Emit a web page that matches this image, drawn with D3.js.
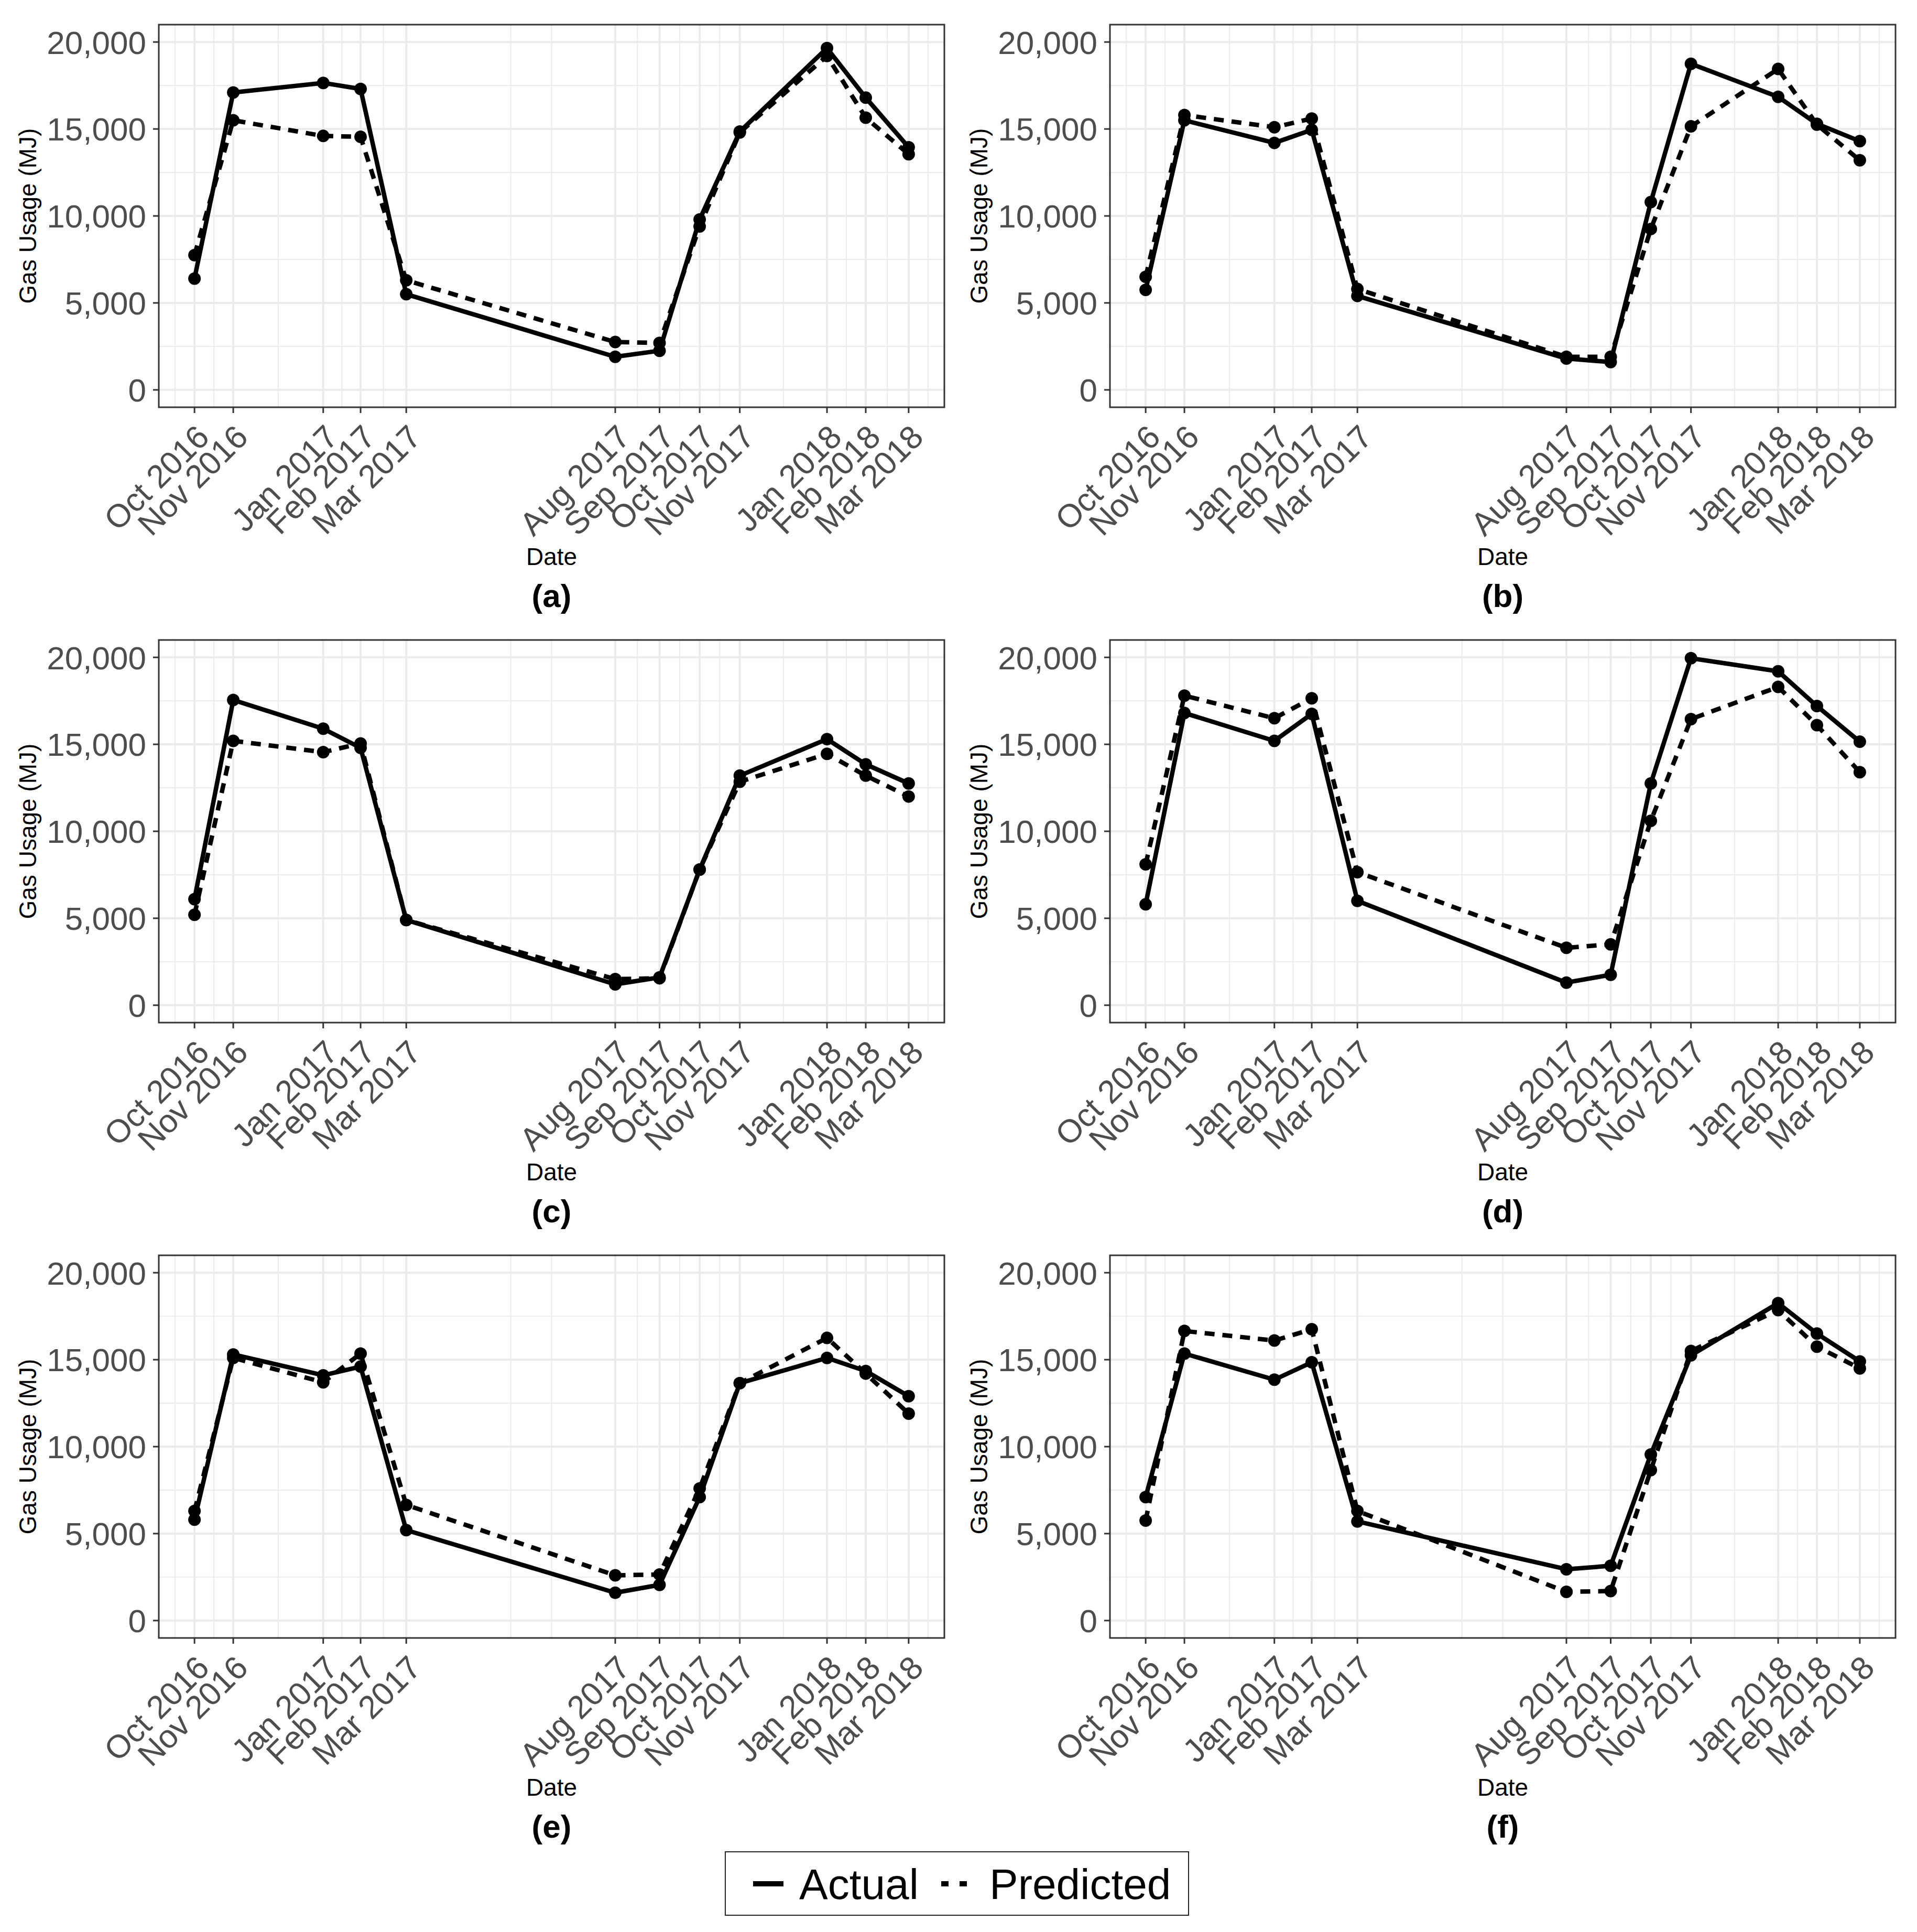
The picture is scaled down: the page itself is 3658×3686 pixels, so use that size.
<!DOCTYPE html>
<html>
<head>
<meta charset="utf-8">
<script src="https://cdn.jsdelivr.net/npm/d3@7"></script>
<style>
  html, body { margin: 0; padding: 0; background: #ffffff; }
  svg { display: block; }
</style>
</head>
<body>
<script>
// ---------------- DATA ----------------
const monthLabels = ["Oct 2016","Nov 2016","Jan 2017","Feb 2017","Mar 2017","Aug 2017",
                     "Sep 2017","Oct 2017","Nov 2017","Jan 2018","Feb 2018","Mar 2018"];
const monthDates = ["2016-10-01","2016-10-29","2017-01-02","2017-01-29","2017-03-03","2017-08-01",
                    "2017-09-02","2017-10-01","2017-10-30","2018-01-01","2018-01-29","2018-03-01"];
const extraMinorDates = ["2017-06-16"];

const panelNames = ["(a)","(b)","(c)","(d)","(e)","(f)"];

const actualA    = [6400,17100,17650,17300,5500,1900,2250,9800,14850,19650,16800,13950];
const predictedA = [7750,15500,14600,14550,6300,2750,2700,9400,14800,19200,15650,13550];

const actualB    = [5750,15500,14200,14950,5400,1800,1600,10800,18750,16850,15300,14300];
const predictedB = [6500,15800,15100,15600,5800,1900,1900,9250,15150,18450,15250,13200];

const actualC    = [6100,17550,15900,14800,4900,1200,1600,7800,13200,15300,13850,12750];
const predictedC = [5200,15200,14550,15050,4900,1500,1550,7800,12850,14450,13200,12000];

const actualD    = [5800,16800,15200,16750,6000,1300,1750,12750,19950,19200,17200,15150];
const predictedD = [8100,17800,16500,17650,7650,3300,3500,10600,16450,18300,16100,13400];

const actualE    = [5800,15300,14100,14600,5200,1600,2050,7100,13650,15100,14350,12900];
const predictedE = [6300,15100,13700,15350,6650,2600,2650,7600,13650,16250,14200,11900];

const actualF    = [7100,15350,13850,14850,5700,2950,3150,9550,15250,18250,16500,14900];
const predictedF = [5750,16650,16100,16750,6300,1650,1700,8650,15500,17850,15750,14500];

const actualSeries    = [actualA, actualB, actualC, actualD, actualE, actualF];
const predictedSeries = [predictedA, predictedB, predictedC, predictedD, predictedE, predictedF];

const yLimits = [0, 20000];
const yTicks = [0, 5000, 10000, 15000, 20000];
const yMinorTicks = [2500, 7500, 12500, 17500];

const legendItems = ["Actual", "Predicted"];

// ---------------- LAYOUT ----------------
const W = 3658, H = 3686;
const colLeft = [303, 2118];
const rowTop = [47, 1221, 2395];
const pw = 1499, ph = 730;

const svg = d3.select("body").append("svg")
  .attr("width", W).attr("height", H)
  .attr("viewBox", `0 0 ${W} ${H}`);
svg.append("rect").attr("width", W).attr("height", H).attr("fill", "#ffffff");

const FONT = "'Liberation Sans', Arial, Helvetica, sans-serif";
const parse = d3.utcParse("%Y-%m-%d");
const dates = monthDates.map(parse);
const extraMinor = extraMinorDates.map(parse);

// ggplot-like 5% expansion
const t0 = +dates[0], t1 = +dates[dates.length - 1];
const tPad = (t1 - t0) * 0.05;
const yPad = (yLimits[1] - yLimits[0]) * 0.05;

const x = d3.scaleUtc().domain([new Date(t0 - tPad), new Date(t1 + tPad)]).range([0, pw]);
const y = d3.scaleLinear().domain([yLimits[0] - yPad, yLimits[1] + yPad]).range([ph, 0]);

// minor breaks: midpoints incl. one step beyond each end
const step = +dates[1] - +dates[0];
const ext = [new Date(t0 - step), ...dates, new Date(t1 + step)];
const xMinor = [];
for (let i = 0; i < ext.length - 1; i++) xMinor.push(new Date((+ext[i] + +ext[i + 1]) / 2));
extraMinor.forEach(d => xMinor.push(d));

const fmt = d3.format(",");

panelNames.forEach((name, pi) => {
  const col = pi % 2, row = Math.floor(pi / 2);
  const g = svg.append("g").attr("transform", `translate(${colLeft[col]},${rowTop[row]})`);

  g.append("rect").attr("width", pw).attr("height", ph).attr("fill", "#ffffff");

  const grid = g.append("g");
  grid.selectAll("line.ym").data(yMinorTicks).enter().append("line")
    .attr("x1", 0).attr("x2", pw).attr("y1", d => y(d)).attr("y2", d => y(d))
    .attr("stroke", "#EBEBEB").attr("stroke-width", 2);
  grid.selectAll("line.xm").data(xMinor.filter(d => x(d) > 0 && x(d) < pw)).enter().append("line")
    .attr("y1", 0).attr("y2", ph).attr("x1", d => x(d)).attr("x2", d => x(d))
    .attr("stroke", "#EBEBEB").attr("stroke-width", 2);
  grid.selectAll("line.yM").data(yTicks).enter().append("line")
    .attr("x1", 0).attr("x2", pw).attr("y1", d => y(d)).attr("y2", d => y(d))
    .attr("stroke", "#EBEBEB").attr("stroke-width", 4);
  grid.selectAll("line.xM").data(dates).enter().append("line")
    .attr("y1", 0).attr("y2", ph).attr("x1", d => x(d)).attr("x2", d => x(d))
    .attr("stroke", "#EBEBEB").attr("stroke-width", 4);

  const series = [
    { values: actualSeries[pi], dash: null },
    { values: predictedSeries[pi], dash: "19,15" }
  ];
  const line = d3.line().x(d => x(d.date)).y(d => y(d.v));
  series.forEach(s => {
    const pts = s.values.map((v, i) => ({ date: dates[i], v }));
    const path = g.append("path").datum(pts).attr("d", line)
      .attr("fill", "none").attr("stroke", "#000000").attr("stroke-width", 8.5)
      .attr("stroke-linejoin", "round");
    if (s.dash) path.attr("stroke-dasharray", s.dash);
  });
  series.forEach(s => {
    const pts = s.values.map((v, i) => ({ date: dates[i], v }));
    g.selectAll(null).data(pts).enter().append("circle")
      .attr("cx", d => x(d.date)).attr("cy", d => y(d.v)).attr("r", 12)
      .attr("fill", "#000000");
  });

  g.append("rect").attr("width", pw).attr("height", ph)
    .attr("fill", "none").attr("stroke", "#333333").attr("stroke-width", 3);

  const ya = g.append("g");
  ya.selectAll("line").data(yTicks).enter().append("line")
    .attr("x1", -11).attr("x2", 0).attr("y1", d => y(d)).attr("y2", d => y(d))
    .attr("stroke", "#333333").attr("stroke-width", 3);
  ya.selectAll("text").data(yTicks).enter().append("text")
    .attr("x", -24).attr("y", d => y(d)).attr("dy", "0.36em")
    .attr("text-anchor", "end").attr("font-family", FONT).attr("font-size", 62)
    .attr("fill", "#4D4D4D").text(d => fmt(d));

  const xa = g.append("g");
  xa.selectAll("line").data(dates).enter().append("line")
    .attr("x1", d => x(d)).attr("x2", d => x(d)).attr("y1", ph).attr("y2", ph + 11)
    .attr("stroke", "#333333").attr("stroke-width", 3);
  xa.selectAll("text").data(dates).enter().append("text")
    .attr("transform", d => `translate(${x(d)},${ph + 29}) rotate(-45)`)
    .attr("dy", "0.72em")
    .attr("text-anchor", "end").attr("font-family", FONT).attr("font-size", 62)
    .attr("fill", "#4D4D4D").text((d, i) => monthLabels[i]);

  g.append("text").attr("x", pw / 2).attr("y", ph + 301)
    .attr("text-anchor", "middle").attr("font-family", FONT).attr("font-size", 46)
    .attr("fill", "#000000").text("Date");
  g.append("text").attr("transform", `translate(-234,${ph / 2}) rotate(-90)`)
    .attr("text-anchor", "middle").attr("font-family", FONT).attr("font-size", 46)
    .attr("fill", "#000000").text("Gas Usage (MJ)");

  g.append("text").attr("x", pw / 2).attr("y", ph + 381)
    .attr("text-anchor", "middle").attr("font-family", FONT).attr("font-size", 62)
    .attr("font-weight", "bold").attr("fill", "#000000").text(name);
});

// ---------------- LEGEND ----------------
const lg = svg.append("g");
lg.append("rect").attr("x", 1384).attr("y", 3533).attr("width", 884).attr("height", 121)
  .attr("fill", "#ffffff").attr("stroke", "#222222").attr("stroke-width", 2);
const keyY = 3594;
lg.append("line").attr("x1", 1437).attr("x2", 1495).attr("y1", keyY).attr("y2", keyY)
  .attr("stroke", "#000000").attr("stroke-width", 10);
lg.append("line").attr("x1", 1796).attr("x2", 1846).attr("y1", keyY).attr("y2", keyY)
  .attr("stroke", "#000000").attr("stroke-width", 10).attr("stroke-dasharray", "14,21");
lg.append("text").attr("x", 1525).attr("y", 3623).attr("font-family", FONT).attr("font-size", 82)
  .attr("fill", "#000000").text(legendItems[0]);
lg.append("text").attr("x", 1888).attr("y", 3623).attr("font-family", FONT).attr("font-size", 82)
  .attr("fill", "#000000").text(legendItems[1]);
</script>
</body>
</html>
